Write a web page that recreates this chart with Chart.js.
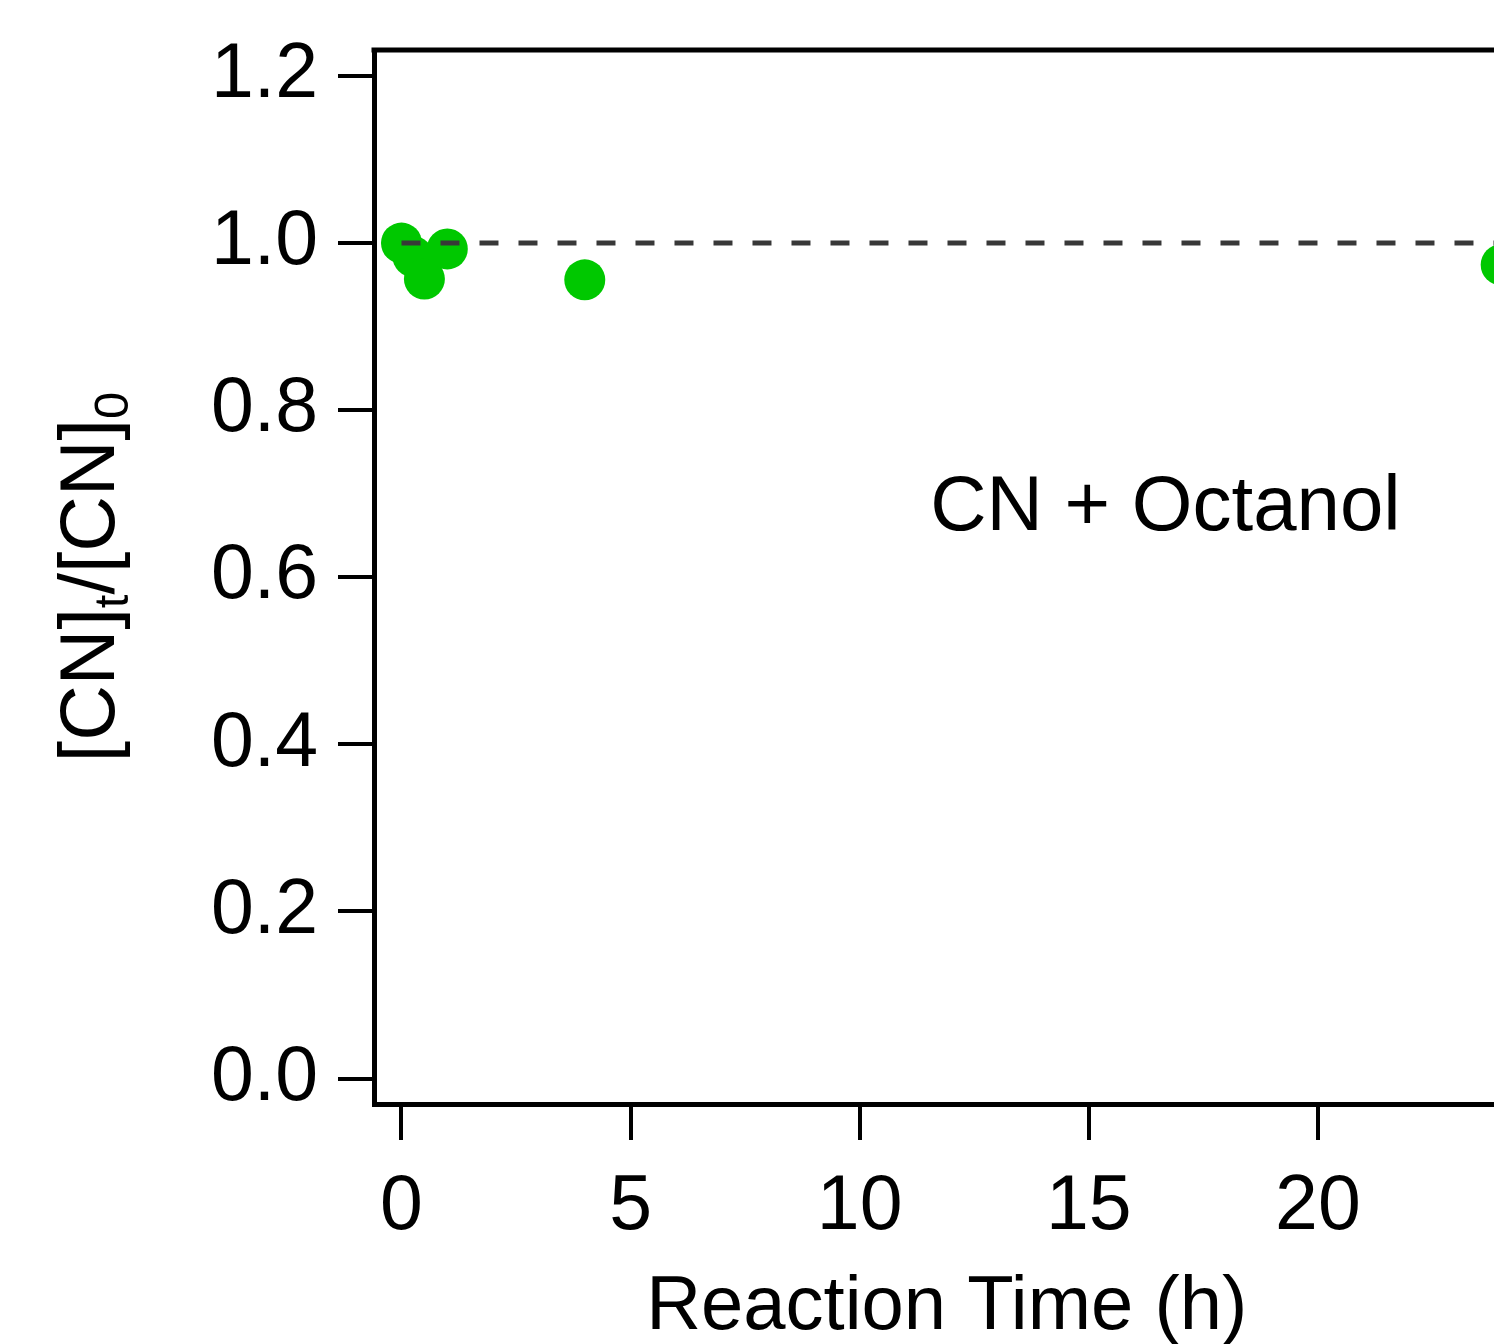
<!DOCTYPE html>
<html>
<head>
<meta charset="utf-8">
<script src="https://cdn.jsdelivr.net/npm/chart.js@4.4.0/dist/chart.umd.min.js"></script>
<style>
  html, body { margin: 0; padding: 0; background: #fff; }
  #wrap { width: 1494px; height: 1344px; overflow: hidden; position: relative; }
  #chart { position: absolute; left: 0; top: 0; }
</style>
</head>
<body>
<div id="wrap"><canvas id="chart" width="1540" height="1344"></canvas></div>
<script>
// measured data: CN + Octanol
const timeH = [0, 0.25, 0.5, 1, 4, 24];
const ratio = [1.0, 0.984, 0.957, 0.993, 0.956, 0.974];

// reference line at [CN]t/[CN]0 = 1
const refX = [0, 24];
const refY = [1, 1];

const xTicks = [0, 5, 10, 15, 20];
const yTicks = [0, 0.2, 0.4, 0.6, 0.8, 1.0, 1.2];
const xRange = [-0.6, 24.4];
const yRange = [-0.0305, 1.2311];

const noteText = 'CN + Octanol';
const notePos = [11.54, 0.656];
const xTitle = 'Reaction Time (h)';
// [text, isSubscript]
const yTitleParts = [['[CN]', false], ['t', true], ['/[CN]', false], ['0', true]];

const FONT = '"Liberation Sans", Arial, sans-serif';

const decorations = {
    id: 'decorations',
    afterDraw(chart) {
        const { ctx, chartArea: a, scales } = chart;
        ctx.save();

        // top and right sides of the frame
        ctx.strokeStyle = '#000';
        ctx.lineWidth = 5;
        ctx.beginPath();
        ctx.moveTo(a.left - 2.5, a.top);
        ctx.lineTo(a.right, a.top);
        ctx.lineTo(a.right, a.bottom + 2.5);
        ctx.stroke();

        ctx.fillStyle = '#000';
        ctx.textBaseline = 'alphabetic';

        // annotation
        ctx.font = `78px ${FONT}`;
        ctx.textAlign = 'left';
        ctx.fillText(noteText, scales.x.getPixelForValue(notePos[0]), scales.y.getPixelForValue(notePos[1]));

        // x title
        ctx.font = `76px ${FONT}`;
        ctx.textAlign = 'center';
        ctx.fillText(xTitle, (a.left + a.right) / 2, 1329);

        // y title with subscripts, rotated
        const mainSize = 77, subSize = 49, subShift = 14;
        let total = 0;
        yTitleParts.forEach(([t, sub]) => {
            ctx.font = `${sub ? subSize : mainSize}px ${FONT}`;
            total += ctx.measureText(t).width;
        });
        ctx.translate(114, (a.top + a.bottom) / 2);
        ctx.rotate(-Math.PI / 2);
        ctx.textAlign = 'left';
        let cx = -total / 2;
        yTitleParts.forEach(([t, sub]) => {
            ctx.font = `${sub ? subSize : mainSize}px ${FONT}`;
            ctx.fillText(t, cx, sub ? subShift : 0);
            cx += ctx.measureText(t).width;
        });

        ctx.restore();
    }
};

const noPad = s => { s.paddingTop = 0; s.paddingBottom = 0; s.paddingLeft = 0; s.paddingRight = 0; };

const ctx = document.getElementById('chart').getContext('2d');
new Chart(ctx, {
    type: 'scatter',
    data: {
        datasets: [
            {
                type: 'line',
                data: refX.map((x, i) => ({ x, y: refY[i] })),
                borderColor: '#383838',
                borderWidth: 5,
                borderDash: [19, 20],
                pointRadius: 0,
                fill: false
            },
            {
                data: timeH.map((t, i) => ({ x: t, y: ratio[i] })),
                backgroundColor: '#00c800',
                borderWidth: 0,
                pointRadius: 20.5,
                pointHoverRadius: 20.5
            }
        ]
    },
    options: {
        responsive: false,
        animation: false,
        devicePixelRatio: 1,
        events: [],
        layout: { padding: { top: 50, right: 12, left: 0, bottom: 0 } },
        plugins: { legend: { display: false }, tooltip: { enabled: false } },
        scales: {
            x: {
                type: 'linear',
                min: xRange[0],
                max: xRange[1],
                afterBuildTicks: s => { s.ticks = xTicks.map(v => ({ value: v })); },
                afterFit: s => { s.height = 240; noPad(s); },
                grid: { drawOnChartArea: false, drawTicks: true, tickLength: 36, color: '#000', lineWidth: 4 },
                border: { display: true, color: '#000', width: 5 },
                ticks: { color: '#000', font: { family: FONT, size: 77 }, padding: 22, maxRotation: 0, autoSkip: false }
            },
            y: {
                type: 'linear',
                min: yRange[0],
                max: yRange[1],
                afterBuildTicks: s => { s.ticks = yTicks.map(v => ({ value: v })); },
                afterFit: s => { s.width = 374; noPad(s); },
                grid: { drawOnChartArea: false, drawTicks: true, tickLength: 36, color: '#000', lineWidth: 4 },
                border: { display: true, color: '#000', width: 5 },
                ticks: { color: '#000', font: { family: FONT, size: 77 }, padding: 20, callback: v => v.toFixed(1) }
            }
        }
    },
    plugins: [decorations]
});
</script>
</body>
</html>
